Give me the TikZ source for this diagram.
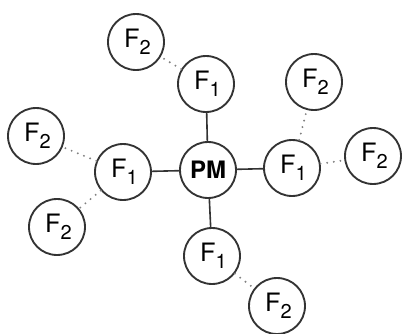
\documentclass[tikz,border=0pt]{standalone}
\usepackage{fontspec}
\setmainfont{TeX Gyre Heros}
\begin{document}
\begin{tikzpicture}[x=0.75pt,y=-0.75pt,
  mol/.style={circle,draw=black!80,line width=1.4pt,minimum size=42pt,inner sep=0pt,
    font=\fontsize{19}{19}\selectfont},
  bond/.style={draw=black!80,line width=1.2pt},
  weak/.style={draw=black!50,line width=1.6pt,line cap=round,dash pattern=on 0pt off 5pt}]
\useasboundingbox (0,0) rectangle (403,333);
\newcommand{\Fsub}[1]{\hspace*{2pt}F\raisebox{-5.5pt}{\fontsize{15}{15}\selectfont #1}}
\node[mol] (pm) at (208,170) {\fontsize{18}{18}\selectfont\textbf{PM}};
\node[mol] (ft) at (206,84) {\Fsub{1}};
\node[mol] (fl) at (123,172) {\Fsub{1}};
\node[mol] (fr) at (292,168) {\Fsub{1}};
\node[mol] (fb) at (212,256) {\Fsub{1}};
\node[mol] (a) at (136,42) {\Fsub{2}};
\node[mol] (b) at (314,82) {\Fsub{2}};
\node[mol] (c) at (373,156) {\Fsub{2}};
\node[mol] (d) at (36,136) {\Fsub{2}};
\node[mol] (e) at (57,227) {\Fsub{2}};
\node[mol] (f) at (277,306) {\Fsub{2}};
\draw[bond] (pm) -- (ft);
\draw[bond] (pm) -- (fl);
\draw[bond] (pm) -- (fr);
\draw[bond] (pm) -- (fb);
\draw[weak] (ft) -- (a);
\draw[weak] (fr) -- (b);
\draw[weak] (fr) -- (c);
\draw[weak] (fl) -- (d);
\draw[weak] (fl) -- (e);
\draw[weak] (fb) -- (f);
\end{tikzpicture}
\end{document}
